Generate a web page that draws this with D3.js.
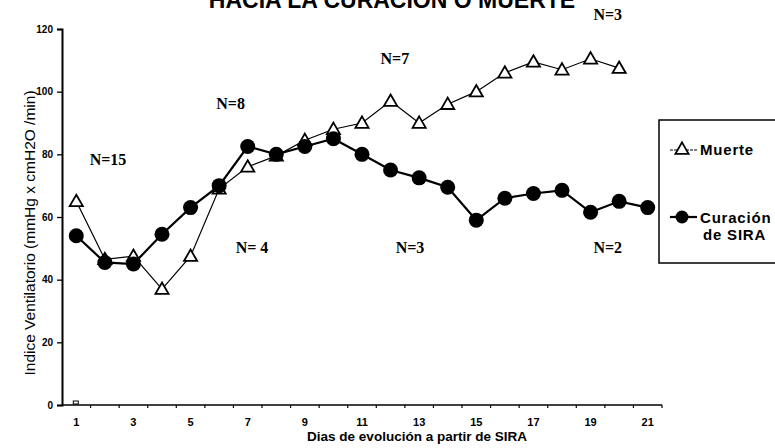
<!DOCTYPE html>
<html><head><meta charset="utf-8">
<script src="https://cdn.jsdelivr.net/npm/d3@7"></script>
<style>
body{margin:0;background:#fff;}
svg{display:block;}
</style></head>
<body>
<svg id="c" width="775" height="448"></svg>
<script>
const categories = [1,2,3,4,5,6,7,8,9,10,11,12,13,14,15,16,17,18,19,20,21];
const xTickLabels = [1,3,5,7,9,11,13,15,17,19,21];
const yTicks = [0,20,40,60,80,100,120];
const muerte = [65,46.5,47.5,37,47.5,69,76,79.5,84.5,88,90,97,90,96,100,106,109.5,107,110.5,107.5];
const curacion = [54,45.5,45,54.5,63,70,82.5,80,82.5,85,80,75,72.5,69.5,59,66,67.5,68.5,61.5,65,63];
const extraSeries = [0];
const nLabels = [
  {text:"N=15", day:2.11, v:76.6},
  {text:"N=8", day:6.4, v:94.5},
  {text:"N=7", day:12.15, v:108.8},
  {text:"N=3", day:19.6, v:122.9},
  {text:"N= 4", day:7.15, v:48.5},
  {text:"N=3", day:12.68, v:48.5},
  {text:"N=2", day:19.6, v:48.5}
];
const title = "HACIA LA CURACION O MUERTE";
const xTitle = "Dias de evolución a partir de SIRA";
const yTitle = "Indice Ventilatorio (mmHg x  cmH2O /min)";

const svg = d3.select("#c");
const sans = "'Liberation Sans', Arial, sans-serif";
const serif = "'Liberation Serif', 'Times New Roman', serif";

const x = d3.scaleBand().domain(categories).range([62, 662]).padding(0);
const cx = d => x(d) + x.bandwidth()/2;
const y = d3.scaleLinear().domain([0,120]).range([405, 29]);

// title (cut off at top)
svg.append("text").attr("x", 392).attr("y", 8).attr("text-anchor","middle")
  .attr("font-family", sans).attr("font-weight","bold").attr("font-size", 23)
  .text(title);

// y axis
const ya = svg.append("g").attr("transform","translate(62,0)")
  .call(d3.axisLeft(y).tickValues(yTicks).tickSize(5).tickPadding(4));
ya.select(".domain").attr("stroke","#000").attr("stroke-width",2);
ya.selectAll(".tick line").attr("stroke","#000").attr("stroke-width",1.3);
ya.selectAll(".tick text").attr("font-family", sans).attr("font-weight","bold")
  .attr("font-size",10).attr("fill","#000");

// x axis
const xa = svg.append("g").attr("transform","translate(0,405)");
xa.append("line").attr("x1",62).attr("x2",662).attr("y1",0).attr("y2",0)
  .attr("stroke","#000").attr("stroke-width",1.5);
xa.selectAll("line.tk").data(categories.slice(1).concat([null])).join("line")
  .attr("class","tk")
  .attr("x1", d => d===null ? 662 : x(d)).attr("x2", d => d===null ? 662 : x(d))
  .attr("y1",0).attr("y2",3).attr("stroke","#000").attr("stroke-width",1.2);
xa.selectAll("text").data(xTickLabels).join("text")
  .attr("x", d => cx(d)).attr("y", 21).attr("text-anchor","middle")
  .attr("font-family", sans).attr("font-weight","bold").attr("font-size",11)
  .text(d => d);

// axis titles
svg.append("text").attr("x", 417).attr("y", 441).attr("text-anchor","middle")
  .attr("font-family", sans).attr("font-weight","bold").attr("font-size",13.5)
  .text(xTitle);
svg.append("text").attr("transform","translate(35,233) rotate(-90)")
  .attr("text-anchor","middle").attr("font-family", sans).attr("font-size",15.5)
  .text(yTitle);

// series lines
const mData = muerte.map((v,i)=>({d:categories[i], v}));
const cData = curacion.map((v,i)=>({d:categories[i], v}));
const line = d3.line().x(p=>cx(p.d)).y(p=>y(p.v));

svg.append("path").datum(mData).attr("d", line).attr("fill","none")
  .attr("stroke","#000").attr("stroke-width",1.2);
const tri = d3.symbol().type(d3.symbolTriangle).size(75);
svg.selectAll("path.tri").data(mData).join("path").attr("class","tri")
  .attr("d", tri).attr("transform", p=>`translate(${cx(p.d)},${y(p.v)+1})`)
  .attr("fill","#fff").attr("stroke","#000").attr("stroke-width",1.8);

svg.append("path").datum(cData).attr("d", line).attr("fill","none")
  .attr("stroke","#000").attr("stroke-width",2.2);
svg.selectAll("circle.cur").data(cData).join("circle").attr("class","cur")
  .attr("cx", p=>cx(p.d)).attr("cy", p=>y(p.v)).attr("r",7.5).attr("fill","#000");

// tiny marker at zero
svg.selectAll("rect.ex").data(extraSeries).join("rect").attr("class","ex")
  .attr("x", cx(1)-3).attr("y", d=>y(d)-4).attr("width",5).attr("height",3)
  .attr("fill","#fff").attr("stroke","#000").attr("stroke-width",1);

// N labels
svg.selectAll("text.n").data(nLabels).join("text").attr("class","n")
  .attr("x", d=>cx(1) + (d.day-1)*x.step()).attr("y", d=>y(d.v))
  .attr("text-anchor","middle").attr("font-family", serif).attr("font-weight","bold")
  .attr("font-size",16).text(d=>d.text);

// legend
const lg = svg.append("g");
lg.append("rect").attr("x",659).attr("y",120).attr("width",130).attr("height",143)
  .attr("fill","#fff").attr("stroke","#000").attr("stroke-width",1.5);
lg.append("line").attr("x1",670).attr("x2",697).attr("y1",150).attr("y2",150)
  .attr("stroke","#000").attr("stroke-width",1.2).attr("stroke-dasharray","3,1");
lg.append("path").attr("d", tri).attr("transform","translate(682,150)")
  .attr("fill","#fff").attr("stroke","#000").attr("stroke-width",1.8);
lg.append("text").attr("x",700).attr("y",155).attr("font-family",sans)
  .attr("font-weight","bold").attr("font-size",15).attr("letter-spacing",0.8).text("Muerte");
lg.append("line").attr("x1",670).attr("x2",697).attr("y1",217).attr("y2",217)
  .attr("stroke","#000").attr("stroke-width",2.2);
lg.append("circle").attr("cx",682).attr("cy",217).attr("r",6.5).attr("fill","#000");
lg.append("text").attr("x",700).attr("y",223).attr("font-family",sans)
  .attr("font-weight","bold").attr("font-size",15).attr("letter-spacing",0.8).text("Curación");
lg.append("text").attr("x",703).attr("y",240).attr("font-family",sans)
  .attr("font-weight","bold").attr("font-size",15).attr("letter-spacing",0.8).text("de SIRA");
</script>
</body></html>
